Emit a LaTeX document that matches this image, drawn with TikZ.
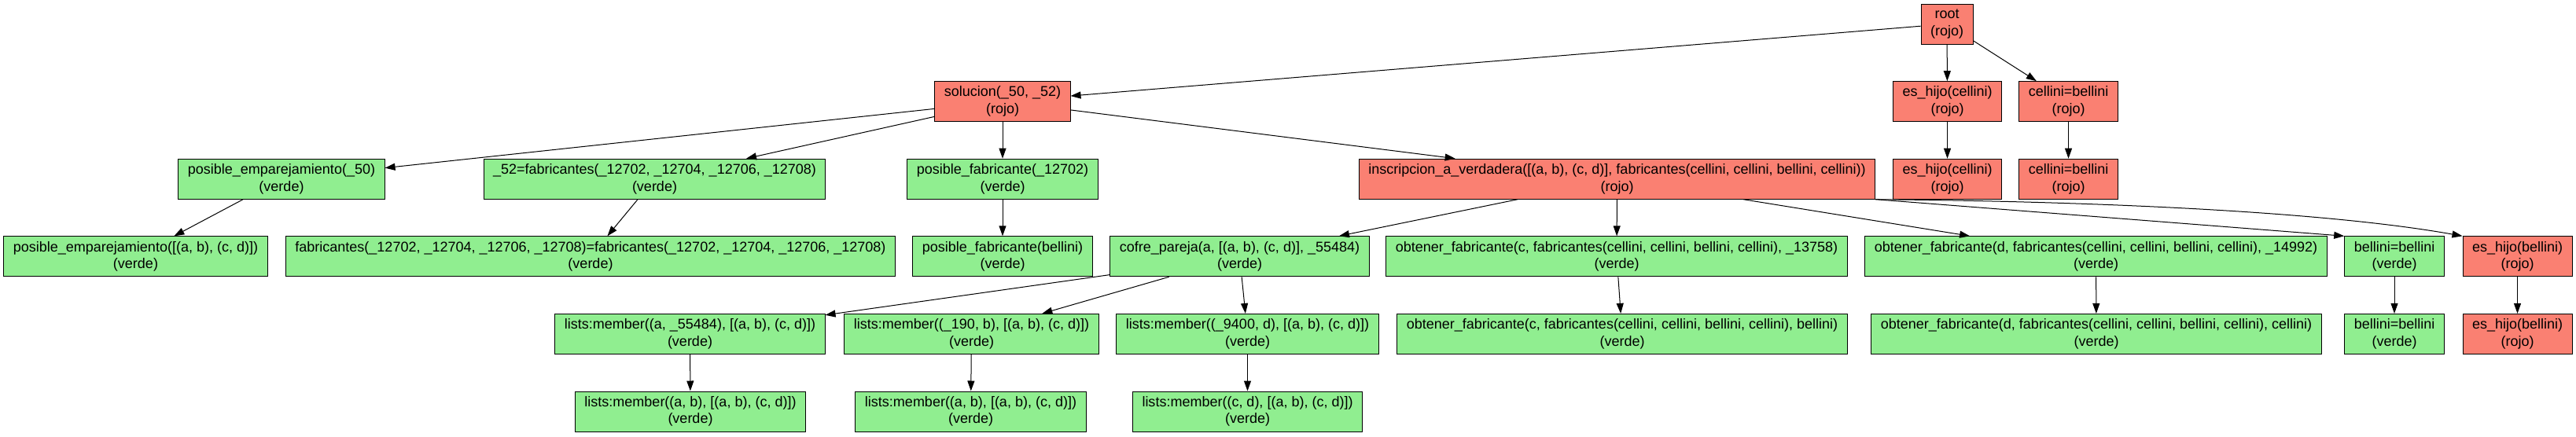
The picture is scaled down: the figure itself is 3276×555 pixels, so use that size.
\documentclass[tikz,border=0pt]{standalone}
\usepackage{fontspec}
\setmainfont{Liberation Sans}
\usetikzlibrary{arrows.meta}

\definecolor{rojo}{HTML}{FA8072}
\definecolor{verde}{HTML}{90EE90}

\tikzset{
  goal/.style={draw=black, line width=1pt, minimum height=51pt,
    inner xsep=12pt, inner ysep=2pt, align=center,
    font=\fontsize{18}{21.6}\selectfont},
  fail/.style={goal, fill=rojo},
  ok/.style={goal, fill=verde},
  edge/.style={line width=1pt, -{Triangle[length=13pt,width=9pt]}}
}

\begin{document}
\begin{tikzpicture}[x=1pt,y=-1pt]
  \useasboundingbox (0,0) rectangle (3276,555);

% ROW 1 =======================================================================
  \node[fail] (root) at (2476,30.5) {root\\(rojo)};

% ROW 2 =======================================================================
  \node[fail] (sol)   at (1275,129.1)   {solucion(\_50, \_52)\\(rojo)};
  \node[fail] (hijoc) at (2476.5,129.1) {es\_hijo(cellini)\\(rojo)};
  \node[fail] (cellc) at (2630.5,129.1) {cellini=bellini\\(rojo)};

% ROW 3 =======================================================================
  \node[ok]   (posemp) at (358,227.7)    {posible\_emparejamiento(\_50)\\(verde)};
  \node[ok]   (fab52)  at (832.5,227.7)  {\_52=fabricantes(\_12702, \_12704, \_12706, \_12708)\\(verde)};
  \node[ok]   (posfab) at (1275,227.7)   {posible\_fabricante(\_12702)\\(verde)};
  \node[fail] (insc)   at (2056.5,227.7) {inscripcion\_a\_verdadera([(a, b), (c, d)], fabricantes(cellini, cellini, bellini, cellini))\\(rojo)};
  \node[fail] (hijoc2) at (2476.5,227.7) {es\_hijo(cellini)\\(rojo)};
  \node[fail] (cellc2) at (2630.5,227.7) {cellini=bellini\\(rojo)};

% ROW 4 =======================================================================
  \node[ok]   (posemp2) at (172.5,326.3)  {posible\_emparejamiento([(a, b), (c, d)])\\(verde)};
  \node[ok]   (fabeq)   at (751,326.3)    {fabricantes(\_12702, \_12704, \_12706, \_12708)=fabricantes(\_12702, \_12704, \_12706, \_12708)\\(verde)};
  \node[ok]   (posfab2) at (1275,326.3)   {posible\_fabricante(bellini)\\(verde)};
  \node[ok]   (cofre)   at (1576.5,326.3) {cofre\_pareja(a, [(a, b), (c, d)], \_55484)\\(verde)};
  \node[ok]   (obtc)    at (2056,326.3)   {obtener\_fabricante(c, fabricantes(cellini, cellini, bellini, cellini), \_13758)\\(verde)};
  \node[ok]   (obtd)    at (2665.5,326.3) {obtener\_fabricante(d, fabricantes(cellini, cellini, bellini, cellini), \_14992)\\(verde)};
  \node[ok]   (bell)    at (3045,326.3)   {bellini=bellini\\(verde)};
  \node[fail] (hijob)   at (3201.5,326.3) {es\_hijo(bellini)\\(rojo)};

% ROW 5 =======================================================================
  \node[ok]   (memA)  at (877.5,424.9)  {lists:member((a, \_55484), [(a, b), (c, d)])\\(verde)};
  \node[ok]   (memB)  at (1235.5,424.9) {lists:member((\_190, b), [(a, b), (c, d)])\\(verde)};
  \node[ok]   (memC)  at (1586.5,424.9) {lists:member((\_9400, d), [(a, b), (c, d)])\\(verde)};
  \node[ok]   (obtc2) at (2063,424.9)   {obtener\_fabricante(c, fabricantes(cellini, cellini, bellini, cellini), bellini)\\(verde)};
  \node[ok]   (obtd2) at (2666,424.9)   {obtener\_fabricante(d, fabricantes(cellini, cellini, bellini, cellini), cellini)\\(verde)};
  \node[ok]   (bell2) at (3045,424.9)   {bellini=bellini\\(verde)};
  \node[fail] (hijob2) at (3201.5,424.9) {es\_hijo(bellini)\\(rojo)};

% ROW 6 =======================================================================
  \node[ok]   (memA2) at (878,523.5)    {lists:member((a, b), [(a, b), (c, d)])\\(verde)};
  \node[ok]   (memB2) at (1234.5,523.5) {lists:member((a, b), [(a, b), (c, d)])\\(verde)};
  \node[ok]   (memC2) at (1586.5,523.5) {lists:member((c, d), [(a, b), (c, d)])\\(verde)};

% EDGES =======================================================================
  \draw[edge] (root) to (sol);
  \draw[edge] (root) to (hijoc);
  \draw[edge] (root) to (cellc);
  \draw[edge] (hijoc) to (hijoc2);
  \draw[edge] (cellc) to (cellc2);

  \draw[edge] (sol) to (posemp);
  \draw[edge] (sol) to (fab52);
  \draw[edge] (sol) to (posfab);
  \draw[edge] (sol) to (insc);

  \draw[edge] (posemp) to (posemp2);
  \draw[edge] (fab52) to (fabeq);
  \draw[edge] (posfab) to (posfab2);

  \draw[edge] (insc) to (cofre);
  \draw[edge] (insc) to (obtc);
  \draw[edge] (insc) to (obtd);
  \draw[edge] (insc.south east) to (bell.north west);
  \draw[edge] (insc.south east) .. controls (2650,256) and (2950,268) .. (hijob.north west);

  \draw[edge] (cofre) to (memA);
  \draw[edge] (cofre) to (memB);
  \draw[edge] (cofre) to (memC);
  \draw[edge] (obtc) to (obtc2);
  \draw[edge] (obtd) to (obtd2);
  \draw[edge] (bell) to (bell2);
  \draw[edge] (hijob) to (hijob2);

  \draw[edge] (memA) to (memA2);
  \draw[edge] (memB) to (memB2);
  \draw[edge] (memC) to (memC2);

\end{tikzpicture}
\end{document}
